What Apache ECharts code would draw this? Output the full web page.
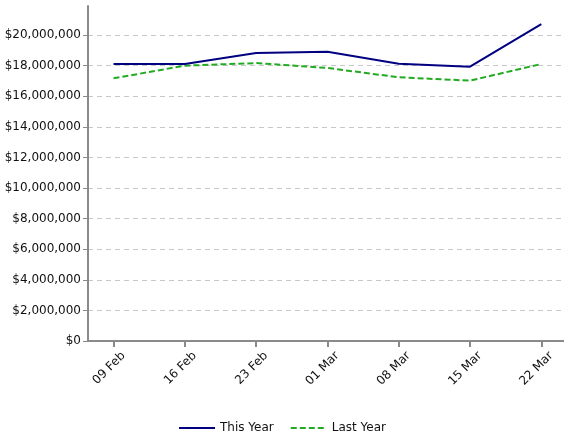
<!DOCTYPE html>
<html>
<head>
<meta charset="utf-8">
<script src="https://cdn.jsdelivr.net/npm/echarts@6/dist/echarts.min.js"></script>
<style>html,body{margin:0;padding:0;background:#fff}#c{width:564px;height:442px}</style>
</head>
<body>
<div id="c"></div>
<script>
const categories = ['09 Feb', '16 Feb', '23 Feb', '01 Mar', '08 Mar', '15 Mar', '22 Mar'];
const thisYear = [18110000, 18110000, 18830000, 18910000, 18130000, 17930000, 20720000];
const lastYear = [17170000, 18000000, 18170000, 17850000, 17240000, 17020000, 18110000];
const yTicks = [0, 2000000, 4000000, 6000000, 8000000, 10000000, 12000000, 14000000, 16000000, 18000000, 20000000];
const seriesNames = ['This Year', 'Last Year'];

const xIdx = categories.map((_, i) => i);
const fmtMoney = v => '$' + Math.round(v).toString().replace(/\B(?=(\d{3})+(?!\d))/g, ',');
const font = 'DejaVu Sans';

const chart = echarts.init(document.getElementById('c'), null, {renderer: 'canvas'});
chart.setOption({
  animation: false,
  textStyle: {fontFamily: font},
  grid: {left: 88, right: 0, top: 6, bottom: 101, containLabel: false},
  legend: {
    bottom: 3, left: 'center', itemWidth: 36, itemHeight: 14, itemGap: 16,
    itemStyle: {opacity: 0},
    textStyle: {fontFamily: font, fontSize: 12, color: '#111'},
    data: seriesNames
  },
  xAxis: {
    type: 'value', min: -0.358, max: 6.318,
    axisLine: {show: true, onZero: false, lineStyle: {color: '#8a8a8a', width: 2}},
    axisTick: {show: true, customValues: xIdx, length: 6, lineStyle: {color: '#8a8a8a', width: 2}},
    axisLabel: {customValues: xIdx, formatter: v => categories[Math.round(v)], rotate: 45, margin: 3,
      align: 'right', verticalAlign: 'top', lineHeight: 28,
      fontFamily: font, fontSize: 12, color: '#111'},
    splitLine: {show: false}
  },
  yAxis: {
    type: 'value', min: 0, max: 21900000,
    axisLine: {show: true, onZero: false, lineStyle: {color: '#8a8a8a', width: 2}},
    axisTick: {show: true, customValues: yTicks, length: 5, lineStyle: {color: '#8a8a8a', width: 1}},
    axisLabel: {customValues: yTicks, formatter: fmtMoney, margin: 7, fontFamily: font, fontSize: 12, color: '#111'},
    splitLine: {show: true, lineStyle: {color: '#c8c8c8', width: 1, type: [5, 4]}}
  },
  series: [
    {name: seriesNames[0], type: 'line', symbol: 'none',
      data: thisYear.map((v, i) => [xIdx[i], v]),
      lineStyle: {color: '#000080', width: 2}, itemStyle: {color: '#000080'}, z: 3},
    {name: seriesNames[1], type: 'line', symbol: 'none',
      data: lastYear.map((v, i) => [xIdx[i], v]),
      lineStyle: {color: '#22aa22', width: 2, type: [6, 3]}, itemStyle: {color: '#22aa22'}, z: 2}
  ]
});
</script>
</body>
</html>
